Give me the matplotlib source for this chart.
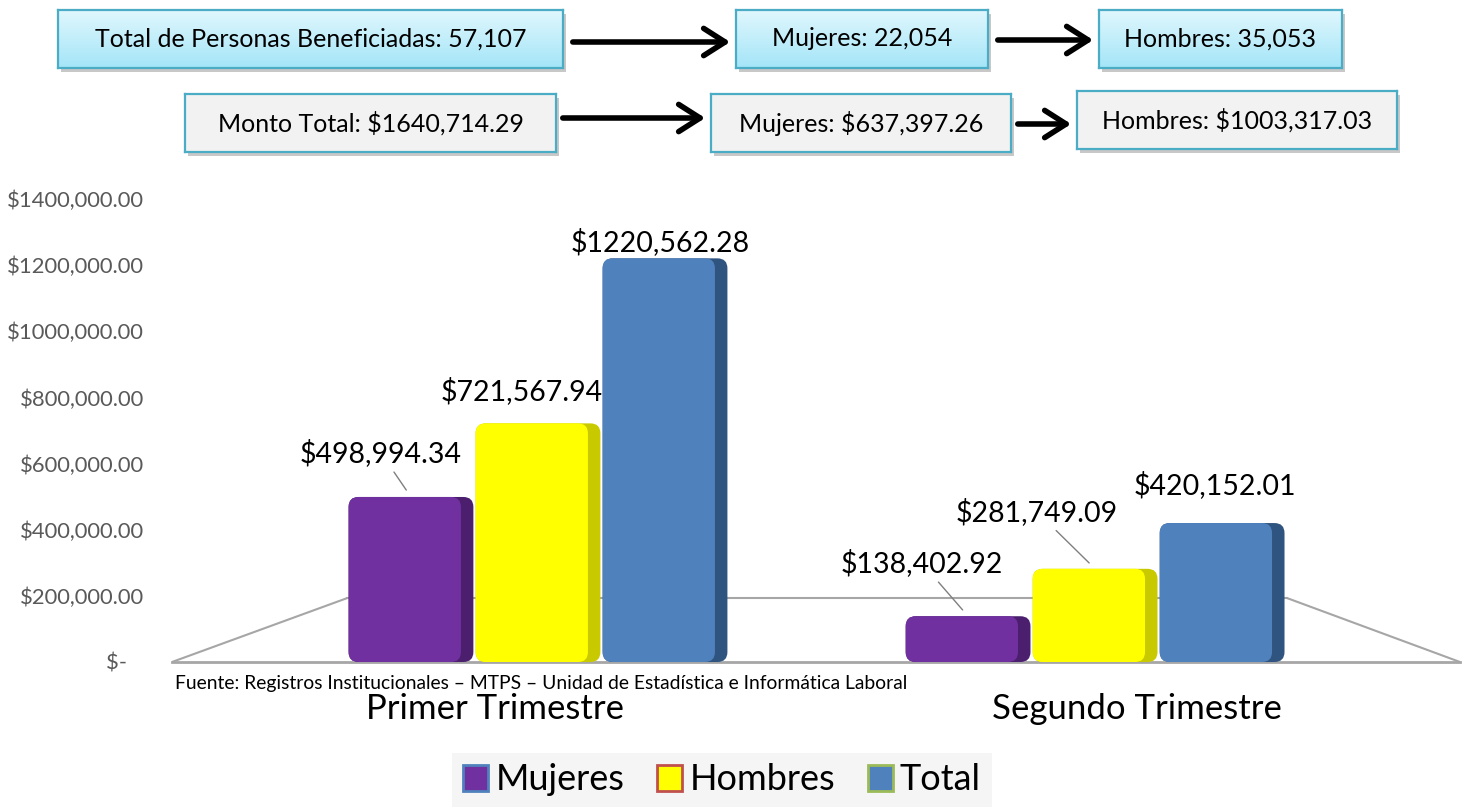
import matplotlib
matplotlib.use("Agg")
import matplotlib.pyplot as plt
import numpy as np
from matplotlib.patches import Patch, Rectangle, FancyArrowPatch, FancyBboxPatch
from matplotlib.colors import LinearSegmentedColormap
from matplotlib.transforms import ScaledTranslation

plt.rcParams['font.family'] = ['Lato', 'DejaVu Sans']

# ---------------- data ----------------
categories = ["Primer Trimestre", "Segundo Trimestre"]
series_names = ["Mujeres", "Hombres", "Total"]
mujeres = [498994.34, 138402.92]
hombres = [721567.94, 281749.09]
total = [1220562.28, 420152.01]
y_ticks = [0, 200000, 400000, 600000, 800000, 1000000, 1200000, 1400000]

personas_total = 57107
personas_mujeres = 22054
personas_hombres = 35053
monto_total = 1640714.29
monto_mujeres = 637397.26
monto_hombres = 1003317.03

source_text = "Fuente: Registros Institucionales – MTPS – Unidad de Estadística e Informática Laboral"


def money(v):
    if v == 0:
        return "$-   "
    cents = int(round(v * 100))
    whole, c = divmod(cents, 100)
    return f"${whole // 1000},{whole % 1000:03d}.{c:02d}"


W, H = 1469, 808
fig = plt.figure(figsize=(W / 100, H / 100), dpi=100)
fig.patch.set_facecolor('white')


def fig_rect(x0, y0, x1, y1):
    return [x0 / W, 1 - y1 / H, (x1 - x0) / W, (y1 - y0) / H]


grad = LinearSegmentedColormap.from_list('g', ['#e0f7fd', '#a4e5f8'])


def add_box(x0, y0, x1, y1, text, gradient):
    fig.add_artist(Rectangle(((x0 + 3) / W, 1 - (y1 + 4) / H), (x1 - x0) / W, (y1 - y0) / H,
                             transform=fig.transFigure, facecolor='#c8c8c8',
                             edgecolor='none', zorder=-1))
    bax = fig.add_axes(fig_rect(x0, y0, x1, y1))
    if gradient:
        bax.imshow(np.linspace(0, 1, 60).reshape(-1, 1), cmap=grad, aspect='auto',
                   extent=[0, 1, 0, 1])
    else:
        bax.set_facecolor('#f2f2f2')
    bax.set_xlim(0, 1)
    bax.set_ylim(0, 1)
    bax.set_xticks([])
    bax.set_yticks([])
    for s in bax.spines.values():
        s.set_color('#4bacc6')
        s.set_linewidth(1.6)
    bax.text(0.5, 0.5, text, ha='center', va='center', fontsize=18,
             transform=bax.transAxes, color='black')


def add_arrow(x0, x1, y):
    fig.add_artist(FancyArrowPatch((x0 / W, 1 - y / H), (x1 / W, 1 - y / H),
                                   transform=fig.transFigure,
                                   arrowstyle='->,head_length=0.55,head_width=0.35',
                                   mutation_scale=28, lw=4, color='black'))


add_box(58, 10, 563, 68, f"Total de Personas Beneficiadas: {personas_total:,}", True)
add_box(736, 10, 988, 68, f"Mujeres: {personas_mujeres:,}", True)
add_box(1099, 10, 1342, 68, f"Hombres: {personas_hombres:,}", True)
add_arrow(570, 733, 42)
add_arrow(995, 1096, 40)

add_box(185, 94, 556, 152, f"Monto Total: {money(monto_total)}", False)
add_box(711, 94, 1011, 152, f"Mujeres: {money(monto_mujeres)}", False)
add_box(1077, 91, 1397, 149, f"Hombres: {money(monto_hombres)}", False)
add_arrow(560, 708, 118)
add_arrow(1015, 1074, 124)

# ---------------- main chart ----------------
ax = fig.add_axes(fig_rect(172, 199, 1460, 662))
x = np.arange(len(categories))
width = 0.224
spacing = 0.228
faces = ['#7030a0', '#ffff00', '#4f81bd']
sides = ['#4b1f6e', '#c9c900', '#2f5480']
series = [mujeres, hombres, total]

ax.set_xlim(-0.657, 1.655)
ax.set_ylim(0, 1400000)

# pixel -> data scale for rounded corners
px_x = (1.655 + 0.657) / (1460 - 172)
px_y = 1400000 / (662 - 199)
rad_px = 10
aspect = px_y / px_x

# floor (perspective outline)
ax.plot([-0.657, -0.343], [0, 193000], color='#a6a6a6', lw=1.5, zorder=1)
ax.plot([-0.343, 1.345], [193000, 193000], color='#a6a6a6', lw=1.5, zorder=1)
ax.plot([1.345, 1.655], [193000, 0], color='#a6a6a6', lw=1.5, zorder=1)
ax.plot([-0.657, 1.655], [0, 0], color='#a6a6a6', lw=2, zorder=1, clip_on=False)

for i, (vals, fc, sc) in enumerate(zip(series, faces, sides)):
    bars = ax.bar(x + (i - 1) * spacing, vals, width, color=fc, zorder=3,
                  label=series_names[i])
    for b in bars:
        b.set_visible(False)
        bx, bw, bh = b.get_x(), b.get_width(), b.get_height()
        r = min(rad_px * px_x, bh / aspect / 2.2)
        ax.add_patch(FancyBboxPatch((bx, 0), bw, bh,
                                    boxstyle=f"round,pad=0,rounding_size={r}",
                                    mutation_aspect=aspect, facecolor=sc,
                                    edgecolor='none', zorder=3))
        ax.add_patch(FancyBboxPatch((bx, 0), bw * 0.9, bh,
                                    boxstyle=f"round,pad=0,rounding_size={r}",
                                    mutation_aspect=aspect, facecolor=fc,
                                    edgecolor='none', zorder=4))

# data labels (offsets in pixels)
label_offsets = {
    (0, 0): (-30, 44, True), (0, 1): (-16, 32, False), (0, 2): (-5, 16, False),
    (1, 0): (-46, 53, True), (1, 1): (-58, 57, True), (1, 2): (-7, 38, False),
}
for i, vals in enumerate(series):
    for j, v in enumerate(vals):
        dx, dy, leader = label_offsets[(j, i)]
        kw = {}
        if leader:
            kw['arrowprops'] = dict(arrowstyle='-', color='#7f7f7f', lw=1,
                                    shrinkA=2, shrinkB=6)
        ax.annotate(money(v), xy=(x[j] + (i - 1) * spacing, v),
                    xytext=(dx * 0.72, dy * 0.72), textcoords='offset points',
                    ha='center', va='center', fontsize=20.5, zorder=6, **kw)

ax.set_yticks(y_ticks)
ax.set_yticklabels([money(t) for t in y_ticks])
ax.tick_params(axis='y', length=0, pad=20, labelsize=15.8, labelcolor='#595959')
ax.set_xticks(x)
ax.set_xticklabels(categories)
ax.tick_params(axis='x', length=0, pad=22, labelsize=25)
for lab, dx in zip(ax.get_xticklabels(), [-0.43, 0.42]):
    lab.set_transform(lab.get_transform() + ScaledTranslation(dx, 0, fig.dpi_scale_trans))
for s in ax.spines.values():
    s.set_visible(False)
ax.patch.set_alpha(0)

fig.text(175 / W, 1 - 683 / H, source_text, ha='left', va='center', fontsize=13.9)

handles = [Patch(facecolor='#7030a0', edgecolor='#4f81bd', lw=2),
           Patch(facecolor='#ffff00', edgecolor='#c0504d', lw=2),
           Patch(facecolor='#4f81bd', edgecolor='#9bbb59', lw=2)]
leg = fig.legend(handles, series_names, loc='center', bbox_to_anchor=(722 / W, 1 - 780 / H),
                 ncol=3, fontsize=26, frameon=True, facecolor='#f5f5f5', edgecolor='none',
                 fancybox=False, handlelength=0.7, handleheight=0.7, handletextpad=0.2,
                 columnspacing=0.9, borderpad=0.3)
leg.get_frame().set_alpha(1)

fig.savefig('out.png', dpi=100, facecolor='white')
